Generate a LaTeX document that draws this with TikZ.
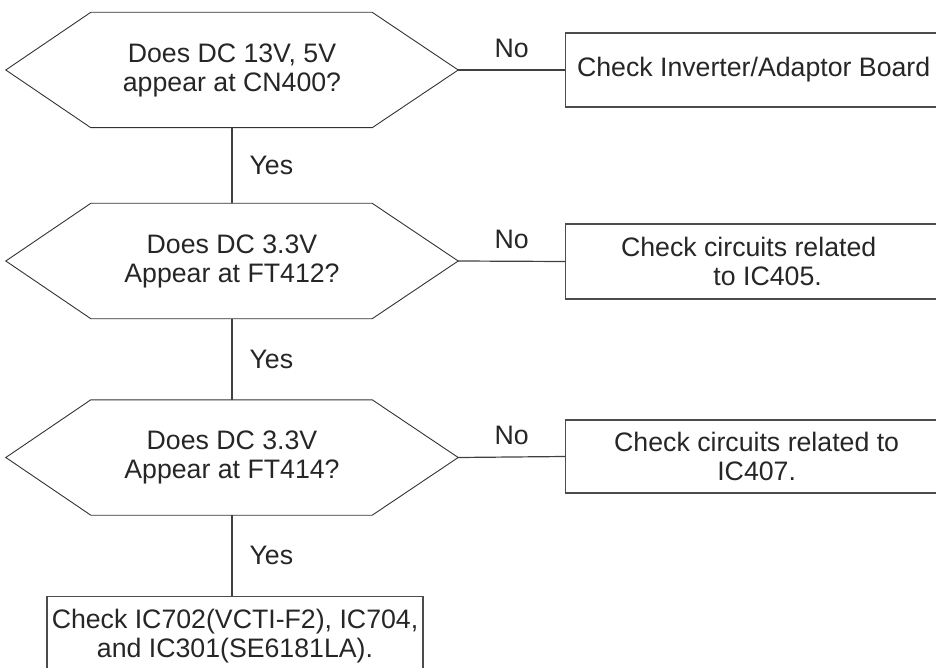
\documentclass[tikz,border=0pt]{standalone}
\usepackage{fontspec}
\setmainfont{Liberation Sans}
\begin{document}
\begin{tikzpicture}[x=1pt,y=-1pt,
  every node/.style={font=\fontsize{26.7}{29}\selectfont, text=black!85},
  ln/.style={draw=black!75, line width=1.2pt},
  hexln/.style={draw=black!80, line width=0.9pt},
  qtext/.style={minimum width=452pt, minimum height=115pt, inner sep=0pt, align=center},
  actbox/.style={draw=black!70, line width=1.3pt, align=center, inner sep=0pt, anchor=west},
  lblno/.style={midway, above=9pt, inner sep=3pt},
  lblyes/.style={midway, right=17pt, inner sep=0pt}]
\useasboundingbox (0,0) rectangle (936,668);

% questions
\node[qtext] (q1) at (232,70) {Does DC 13V, 5V\\appear at CN400?};
\node[qtext] (q2) at (232,261) {Does DC 3.3V\\Appear at FT412?};
\node[qtext] (q3) at (232,457.5) {Does DC 3.3V\\Appear at FT414?};
\foreach \n in {q1,q2,q3}
  \draw[hexln] (\n.west) -- ([xshift=85pt]\n.north west) -- ([xshift=-86pt]\n.north east)
     -- (\n.east) -- ([xshift=-86pt]\n.south east) -- ([xshift=85pt]\n.south west) -- cycle;

% action boxes
\node[actbox, minimum width=376pt, minimum height=74pt] (b1) at (565,70) {Check Inverter/Adaptor Board};
\node[actbox, minimum width=404pt, minimum height=75pt] (b2) at (565,261.5) {Check circuits related\hspace*{38pt}\\to IC405.};
\node[actbox, minimum width=382pt, minimum height=73pt] (b3) at (565,456.5) {Check circuits related to\\IC407.};
\node[draw=black!70, line width=1.3pt, align=center, anchor=north, inner ysep=12pt, minimum width=376pt]
  (b4) at (235,596) {Check IC702(VCTI-F2), IC704,\\and IC301(SE6181LA).};

% connectors
\draw[ln] (q1.east) -- (b1.west) node[lblno] {No};
\draw[ln] (q2.east) -- (b2.west) node[lblno] {No};
\draw[ln] (q3.east) -- (b3.west) node[lblno] {No};
\draw[ln] (q1.south) -- (q2.north) node[lblyes] {Yes};
\draw[ln] (q2.south) -- (q3.north) node[lblyes] {Yes};
\draw[ln] (q3.south) -- (q3.south |- b4.north) node[lblyes] {Yes};
\end{tikzpicture}
\end{document}
